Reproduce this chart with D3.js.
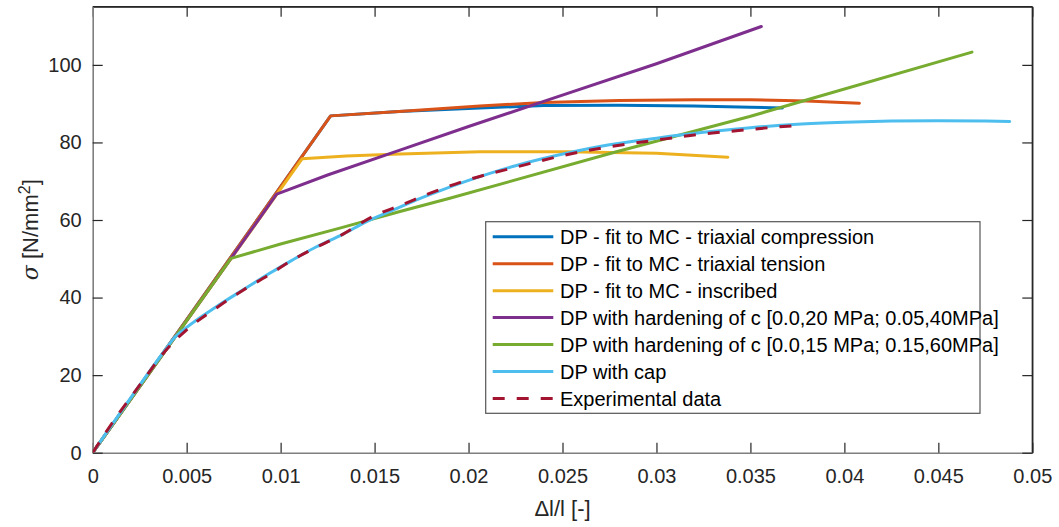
<!DOCTYPE html>
<html>
<head>
<meta charset="utf-8">
<script src="https://cdn.jsdelivr.net/npm/d3@7"></script>
<style>
html,body{margin:0;padding:0;background:#fff;}
svg{display:block;font-family:"Liberation Sans",Arial,Helvetica,sans-serif;}
</style>
</head>
<body>
<svg id="chart" width="1059" height="527"></svg>
<script>
// ---- data ----
const xTicks = [0,0.005,0.01,0.015,0.02,0.025,0.03,0.035,0.04,0.045,0.05];
const xTickLabels = ["0","0.005","0.01","0.015","0.02","0.025","0.03","0.035","0.04","0.045","0.05"];
const yTicks = [0,20,40,60,80,100];
const yTickLabels = ["0","20","40","60","80","100"];

const seriesNames = [
  "DP - fit to MC - triaxial compression",
  "DP - fit to MC - triaxial tension",
  "DP - fit to MC - inscribed",
  "DP with hardening of c [0.0,20 MPa; 0.05,40MPa]",
  "DP with hardening of c [0.0,15 MPa; 0.15,60MPa]",
  "DP with cap",
  "Experimental data"
];
const seriesColors = ["#0072BD","#D95319","#EDB120","#7E2F8E","#77AC30","#4DBEEE","#A2142F"];

const compX = [0,0.01266,0.0163,0.0206,0.024,0.028,0.032,0.035,0.0367];
const compY = [0,86.85,88.0,88.9,89.5,89.6,89.4,89.1,88.9];

const tensX = [0,0.01266,0.0163,0.0206,0.024,0.028,0.032,0.035,0.038,0.0408];
const tensY = [0,86.85,88.0,89.4,90.3,90.8,91.0,91.0,90.7,90.1];

const inscX = [0,0.01115,0.0135,0.01635,0.0206,0.0252,0.03,0.0338];
const inscY = [0,75.8,76.5,77.0,77.6,77.6,77.2,76.2];

const hard1X = [0,0.00979,0.0125,0.01635,0.02,0.024,0.03,0.03558];
const hard1Y = [0,66.65,71.6,78.0,84.1,90.6,100.3,109.9];

const hard2X = [0,0.00736,0.0100,0.01315,0.01635,0.019,0.02787,0.03496,0.03789,0.04679];
const hard2Y = [0,50.1,53.8,57.9,62.2,65.6,77.6,86.7,90.8,103.3];

const capX = [0,0.0039,0.0043,0.005,0.0066,0.008,0.00926,0.0106,0.01191,0.0133,0.01457,0.016,0.01723,0.0185,0.02,0.0225,0.0252,0.0275,0.03,0.0325,0.035,0.0375,0.04,0.0425,0.045,0.0475,0.0488];
const capY = [0,26.8,29.4,32.3,37.7,42.0,45.8,49.6,53.1,56.3,59.6,62.6,65.2,67.6,70.2,74.0,77.2,79.4,81.1,82.6,83.8,84.7,85.2,85.5,85.6,85.5,85.4];

const expX = [0,0.001,0.0025,0.004,0.005,0.0066,0.008,0.0093,0.0107,0.012,0.0133,0.0149,0.0165,0.018,0.02,0.0225,0.025,0.0275,0.03,0.0318,0.034,0.0365,0.0378];
const expY = [0,7.4,17.4,27.0,31.7,37.4,41.9,45.6,49.9,53.2,56.3,60.9,64.0,67.0,70.4,73.6,76.6,78.9,80.6,81.8,82.9,84.0,84.5];

const seriesX = [compX,tensX,inscX,hard1X,hard2X,capX,expX];
const seriesY = [compY,tensY,inscY,hard1Y,hard2Y,capY,expY];

// ---- layout ----
const svg = d3.select("#chart");
const L = 92.7, R = 1032.3, T = 6.7, B = 452.7;
const x = d3.scaleLinear().domain([0,0.05]).range([L,R]);
const y = d3.scaleLinear().domain([0,115]).range([B,T]);
const txt = "#262626";

svg.append("defs").append("clipPath").attr("id","clip")
  .append("rect").attr("x",L).attr("y",T).attr("width",R-L).attr("height",B-T);

// box lines
svg.append("line").attr("x1",L).attr("x2",R).attr("y1",T).attr("y2",T).attr("stroke",txt).attr("stroke-width",1.3);
svg.append("line").attr("x1",R).attr("x2",R).attr("y1",T).attr("y2",B).attr("stroke",txt).attr("stroke-width",1.3);

// axes with inward ticks
const tickLen = 10;
const xb = svg.append("g").attr("transform",`translate(0,${B})`)
  .call(d3.axisBottom(x).tickValues(xTicks).tickFormat((d,i)=>xTickLabels[i]).tickSizeInner(-tickLen).tickSizeOuter(0).tickPadding(16));
const xt = svg.append("g").attr("transform",`translate(0,${T})`)
  .call(d3.axisTop(x).tickValues(xTicks).tickFormat("").tickSizeInner(-tickLen).tickSizeOuter(0));
const yl = svg.append("g").attr("transform",`translate(${L},0)`)
  .call(d3.axisLeft(y).tickValues(yTicks).tickFormat((d,i)=>yTickLabels[i]).tickSizeInner(-tickLen).tickSizeOuter(0).tickPadding(11));
const yr = svg.append("g").attr("transform",`translate(${R},0)`)
  .call(d3.axisRight(y).tickValues(yTicks).tickFormat("").tickSizeInner(-tickLen).tickSizeOuter(0));

[xb,yl].forEach(g=>{
  g.select(".domain").attr("stroke","#7f7f7f").attr("stroke-width",1.6);
  g.selectAll(".tick line").attr("stroke",txt).attr("stroke-width",1.2);
  g.selectAll(".tick text").attr("fill",txt).style("font-size","20px").style("font-family","'Liberation Sans',Arial,sans-serif");
});
[xt,yr].forEach(g=>{
  g.select(".domain").attr("stroke",txt).attr("stroke-width",1.3);
  g.selectAll(".tick line").attr("stroke",txt).attr("stroke-width",1.2);
});
xb.selectAll(".tick text").attr("dy","0.71em");

// series
const plot = svg.append("g").attr("clip-path","url(#clip)");
seriesNames.forEach((name,i)=>{
  const pts = seriesX[i].map((v,j)=>[v,seriesY[i][j]]);
  const smooth = (i>=5);
  const line = d3.line().x(d=>x(d[0])).y(d=>y(d[1]))
    .curve(smooth ? d3.curveMonotoneX : d3.curveLinear);
  plot.append("path").datum(pts)
    .attr("d",line)
    .attr("fill","none")
    .attr("stroke",seriesColors[i])
    .attr("stroke-width",3)
    .attr("stroke-linejoin","round")
    .attr("stroke-linecap", i===6 ? "butt" : "round")
    .attr("stroke-dasharray", i===6 ? "12,12" : null);
});

// axis labels
svg.append("text").attr("x",(L+R)/2).attr("y",516).attr("text-anchor","middle")
  .attr("fill",txt).style("font-size","22px").text("Δl/l [-]");
const yLab = svg.append("text").attr("transform",`translate(38,${(T+B)/2}) rotate(-90)`)
  .attr("text-anchor","middle").attr("fill",txt).style("font-size","22px");
yLab.append("tspan").style("font-style","italic").style("font-family","'DejaVu Serif','Liberation Serif',serif").text("σ");
yLab.append("tspan").text(" [N/mm");
yLab.append("tspan").attr("dy","-0.5em").style("font-size","16px").text("2");
yLab.append("tspan").attr("dy","0.35em").text("]");

// legend
const lg = svg.append("g");
lg.append("rect").attr("x",485.7).attr("y",221.7).attr("width",980-485.7).attr("height",413.3-221.7)
  .attr("fill","#fff").attr("stroke","#555").attr("stroke-width",1.2);
const rowY = d3.scaleLinear().domain([0,6]).range([236.7,398.5]);
seriesNames.forEach((name,i)=>{
  const cy = rowY(i);
  lg.append("line").attr("x1",492.7).attr("x2",553.3).attr("y1",cy).attr("y2",cy)
    .attr("stroke",seriesColors[i]).attr("stroke-width",3)
    .attr("stroke-dasharray", i===6 ? "12,12" : null);
  lg.append("text").attr("x",560).attr("y",cy+7).attr("fill","#000")
    .style("font-size","20px").text(name);
});
</script>
</body>
</html>
